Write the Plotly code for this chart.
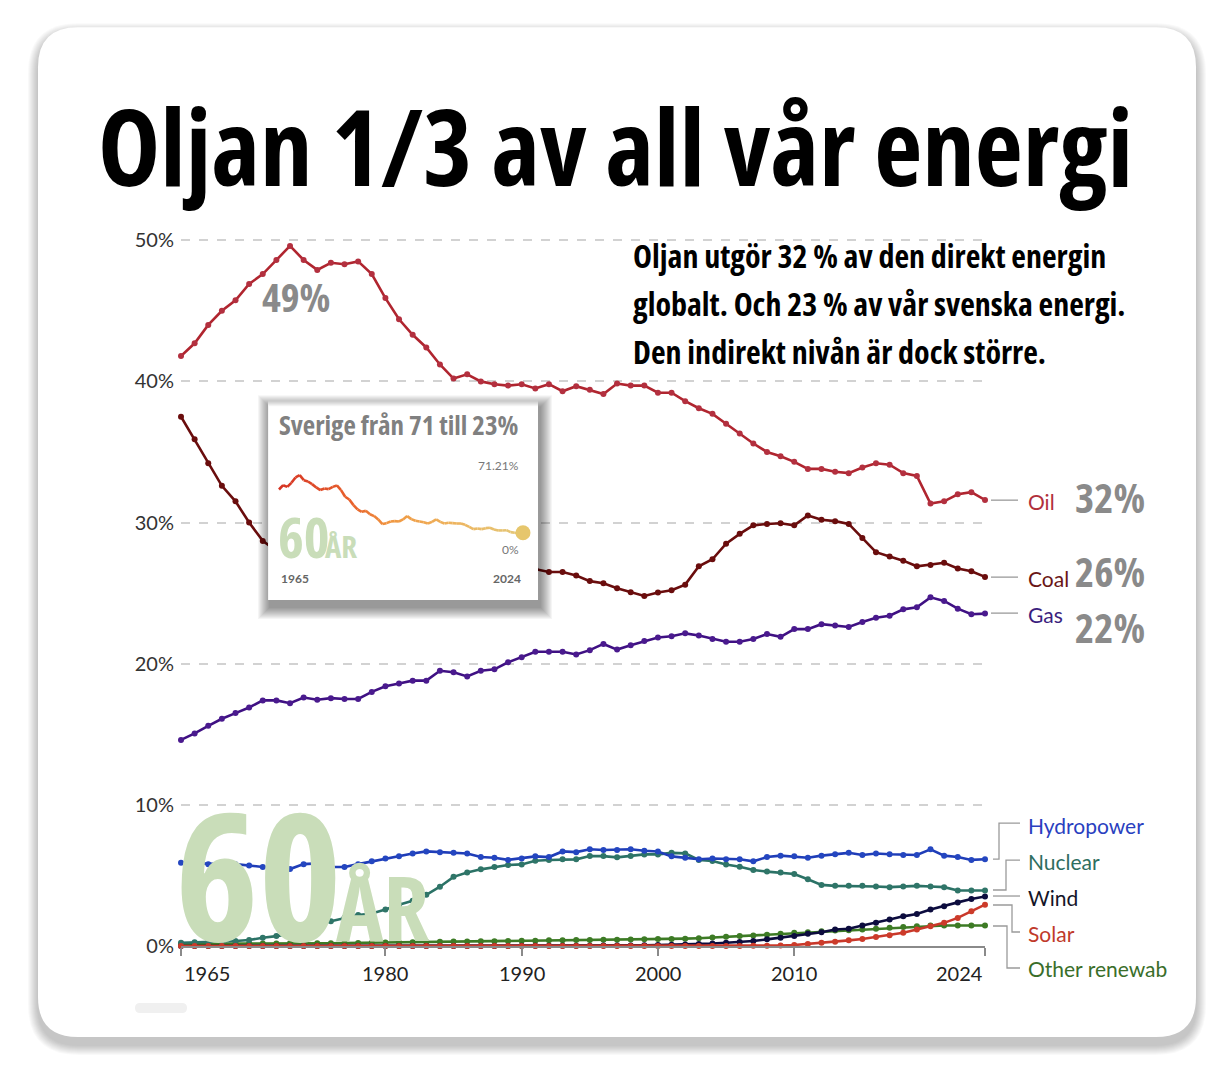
import plotly.graph_objects as go

# ---------------- data ----------------
years = list(range(1965, 2025))

oil = [41.8, 42.7, 44.0, 45.0, 45.75, 46.9, 47.6, 48.6, 49.6, 48.6,
       47.9, 48.4, 48.3, 48.5, 47.6, 45.9, 44.4, 43.3, 42.4, 41.2,
       40.2, 40.5, 40.0, 39.8, 39.7, 39.8, 39.5, 39.8, 39.3, 39.66,
       39.4, 39.1, 39.85, 39.7, 39.7, 39.2, 39.2, 38.6, 38.1, 37.7,
       37.0, 36.3, 35.6, 35.0, 34.7, 34.3, 33.8, 33.8, 33.6, 33.5,
       33.9, 34.2, 34.1, 33.5, 33.3, 31.35, 31.5, 32.0, 32.15, 31.6]

coal = [37.5, 35.9, 34.2, 32.6, 31.5, 30.0, 28.7, 28.0, 27.5, 27.3,
        27.4, 27.3, 27.2, 27.0, 26.9, 27.0, 27.4, 27.7, 27.8, 27.9,
        28.1, 27.9, 27.7, 27.4, 27.1, 26.9, 26.7, 26.5, 26.5, 26.25,
        25.85, 25.7, 25.35, 25.07, 24.8, 25.05, 25.2, 25.6, 26.9, 27.4,
        28.5, 29.2, 29.8, 29.9, 29.95, 29.8, 30.5, 30.2, 30.1, 29.9,
        28.9, 27.9, 27.6, 27.3, 26.9, 27.0, 27.15, 26.75, 26.55, 26.15]

gas = [14.6, 15.06, 15.6, 16.1, 16.5, 16.9, 17.4, 17.4, 17.2, 17.6,
       17.45, 17.56, 17.5, 17.5, 18.0, 18.4, 18.6, 18.8, 18.8, 19.5,
       19.4, 19.1, 19.5, 19.6, 20.1, 20.45, 20.85, 20.85, 20.85, 20.65,
       20.96, 21.4, 21.0, 21.3, 21.6, 21.85, 21.95, 22.15, 22.0, 21.75,
       21.55, 21.55, 21.75, 22.1, 21.9, 22.45, 22.45, 22.8, 22.7, 22.6,
       22.95, 23.25, 23.4, 23.85, 24.0, 24.7, 24.45, 23.9, 23.5, 23.55]

hydro = [5.9, 5.85, 5.8, 5.8, 5.8, 5.7, 5.6, 5.6, 5.45, 5.8,
         5.85, 5.6, 5.6, 5.8, 6.0, 6.2, 6.35, 6.55, 6.7, 6.65,
         6.6, 6.55, 6.3, 6.25, 6.1, 6.2, 6.35, 6.3, 6.7, 6.65,
         6.85, 6.8, 6.8, 6.85, 6.75, 6.7, 6.35, 6.25, 6.15, 6.2,
         6.15, 6.15, 6.0, 6.3, 6.4, 6.35, 6.25, 6.4, 6.5, 6.6,
         6.45, 6.55, 6.5, 6.45, 6.45, 6.85, 6.4, 6.3, 6.1, 6.15]

nuclear = [0.23, 0.26, 0.28, 0.3, 0.35, 0.42, 0.59, 0.7, 0.85, 1.1,
           1.52, 1.76, 2.0, 2.2, 2.3, 2.58, 2.93, 3.2, 3.63, 4.2,
           4.9, 5.2, 5.43, 5.6, 5.74, 5.78, 6.04, 6.09, 6.14, 6.14,
           6.37, 6.37, 6.28, 6.37, 6.49, 6.49, 6.6, 6.56, 6.09, 6.02,
           5.78, 5.62, 5.39, 5.27, 5.2, 5.1, 4.73, 4.33, 4.26, 4.26,
           4.26, 4.22, 4.17, 4.22, 4.26, 4.22, 4.17, 3.93, 3.93, 3.93]

wind = [0, 0, 0, 0, 0, 0, 0, 0, 0, 0,
        0, 0, 0, 0, 0, 0, 0, 0, 0, 0,
        0, 0, 0, 0, 0, 0.01, 0.01, 0.01, 0.02, 0.02,
        0.02, 0.03, 0.03, 0.04, 0.05, 0.07, 0.09, 0.11, 0.14, 0.18,
        0.23, 0.28, 0.35, 0.47, 0.59, 0.7, 0.87, 0.98, 1.17, 1.22,
        1.45, 1.64, 1.87, 2.1, 2.27, 2.58, 2.81, 3.09, 3.33, 3.51]

solar = [0, 0, 0, 0, 0, 0, 0, 0, 0, 0,
         0, 0, 0, 0, 0, 0, 0, 0, 0, 0,
         0, 0, 0, 0, 0, 0, 0, 0, 0, 0,
         0, 0, 0, 0, 0, 0, 0, 0, 0, 0,
         0, 0, 0.01, 0.02, 0.03, 0.07, 0.14, 0.23, 0.3, 0.4,
         0.5, 0.63, 0.77, 0.94, 1.17, 1.4, 1.64, 1.99, 2.46, 2.93]

other = [0.15, 0.15, 0.16, 0.16, 0.17, 0.17, 0.18, 0.18, 0.19, 0.19,
         0.2, 0.2, 0.21, 0.22, 0.23, 0.24, 0.25, 0.27, 0.28, 0.3,
         0.31, 0.32, 0.33, 0.34, 0.35, 0.37, 0.38, 0.4, 0.41, 0.42,
         0.43, 0.44, 0.45, 0.46, 0.47, 0.49, 0.5, 0.52, 0.55, 0.6,
         0.65, 0.7, 0.75, 0.8, 0.87, 0.93, 0.98, 1.05, 1.09, 1.12,
         1.17, 1.22, 1.29, 1.34, 1.4, 1.45, 1.45, 1.45, 1.45, 1.45]

# Sweden oil share (inset)
sweden = [59.2, 62.8, 61.4, 64.8, 69.3, 71.21, 67.0, 65.9, 63.7, 60.9,
          58.7, 60.0, 59.5, 61.4, 62.6, 58.7, 53.1, 50.8, 46.1, 42.5,
          40.5, 41.3, 38.5, 36.9, 34.1, 30.2, 31.0, 32.4, 32.7, 32.4,
          34.1, 36.9, 34.4, 33.0, 32.4, 31.8, 30.7, 32.1, 34.1, 32.1,
          30.7, 31.3, 31.0, 30.7, 30.7, 29.6, 27.9, 26.0, 26.5, 26.0,
          26.8, 27.1, 25.7, 24.9, 24.9, 25.1, 23.5, 22.9, 22.1, 23.0]
sweden_max_label = "71.21%"

x_tick_years = [1965, 1980, 1990, 2000, 2010, 2024]
y_ticks = [0, 10, 20, 30, 40, 50]
y_tick_text = ["0%", "10%", "20%", "30%", "40%", "50%"]

series_names = ["Other renewables", "Wind", "Nuclear", "Hydropower", "Gas", "Coal", "Oil", "Solar"]
series_values = [other, wind, nuclear, hydro, gas, coal, oil, solar]
series_colors = ["#3d7b25", "#0c0c3e", "#2b7266", "#1f3db8", "#3f1083", "#6a0d0d", "#b0252f", "#c9382a"]
marker_colors = ["#3d7b25", "#0c0c3e", "#2f7568", "#2446c0", "#4a1a8e", "#6a0d0d", "#b3303f", "#cc3b2a"]

title_text = "Oljan 1/3 av all vår energi"
sub_lines = ["Oljan utgör 32 % av den direkt energin",
             "globalt. Och 23 % av vår svenska energi.",
             "Den indirekt nivån är dock större."]

# ---------------- geometry helpers (page pixel -> paper) ----------------
OFF = 8                 # body margin of the html page
W, H = 1224 - 2 * OFF, 1074 - 2 * OFF
X0, X1 = 181, 985       # plot area left/right (page px)
Y0 = 946                # value 0 (page px)
PX_PER_PCT = (946 - 240) / 50.0
YMAX = 50.3
YTOP = Y0 - YMAX * PX_PER_PCT


def px(x):
    return (x - X0) / (X1 - X0)


def py(y):
    return (Y0 - y) / (Y0 - YTOP)


LATO = "Lato, Noto Sans, sans-serif"
COND = "Open Sans"


def cond(s):
    return '<span style="font-stretch:condensed">%s</span>' % s


fig = go.Figure()

for name, vals, lc, mc in zip(series_names, series_values, series_colors, marker_colors):
    fig.add_trace(go.Scatter(
        x=years, y=vals, name=name, mode="lines+markers",
        line=dict(color=lc, width=2.6),
        marker=dict(color=mc, size=6),
        cliponaxis=False, showlegend=False, hoverinfo="skip"))

# inset
IX0, IX1 = 1962.34, 2027.63
IY0, IY1 = -33.5, 134.05
fig.add_trace(go.Scatter(
    x=[IX0, IX1, IX1, IX0, IX0], y=[IY0, IY0, IY1, IY1, IY0],
    fill="toself", fillcolor="white", mode="lines", line=dict(width=0, color="white"),
    xaxis="x2", yaxis="y2", showlegend=False, hoverinfo="skip"))


def grad(t):
    stops = [(0.0, (214, 52, 36)), (0.3, (232, 98, 44)), (0.45, (240, 150, 64)),
             (0.7, (238, 178, 92)), (1.0, (228, 200, 120))]
    for (t0, c0), (t1, c1) in zip(stops[:-1], stops[1:]):
        if t <= t1:
            f = (t - t0) / (t1 - t0) if t1 > t0 else 0
            return "rgb(%d,%d,%d)" % tuple(round(a + (b - a) * f) for a, b in zip(c0, c1))
    return "rgb(%d,%d,%d)" % stops[-1][1]


n = len(years)
for i in range(n - 1):
    fig.add_trace(go.Scatter(
        x=[years[i], years[i + 1]], y=[sweden[i], sweden[i + 1]], mode="lines",
        line=dict(color=grad(i / (n - 2)), width=2.6),
        xaxis="x2", yaxis="y2", showlegend=False, hoverinfo="skip"))
fig.add_trace(go.Scatter(
    x=[years[-1]], y=[sweden[-1]], mode="markers",
    marker=dict(color="#e6c66c", size=15), cliponaxis=False,
    xaxis="x2", yaxis="y2", showlegend=False, hoverinfo="skip"))

# ---------------- shapes ----------------
shapes = []


def rrect(x0, y0, x1, y1, r):
    return ("M {a},{b} L {c},{b} Q {d},{b} {d},{e} L {d},{f} Q {d},{g} {c},{g} "
            "L {a},{g} Q {h},{g} {h},{f} L {h},{e} Q {h},{b} {a},{b} Z").format(
        a=px(x0 + r), b=py(y0), c=px(x1 - r), d=px(x1), e=py(y0 + r),
        f=py(y1 - r), g=py(y1), h=px(x0))


for k in range(10, 0, -1):
    shapes.append(dict(type="path", xref="paper", yref="paper", layer="below",
                       path=rrect(38 - k, 27 - k + 6, 1196 + k, 1037 + k + 8, 40 + k),
                       fillcolor="rgba(0,0,0,0.022)", line=dict(width=0)))
shapes.append(dict(type="path", xref="paper", yref="paper", layer="below",
                   path=rrect(38, 27, 1196, 1037, 40), fillcolor="white", line=dict(width=0)))
shapes.append(dict(type="path", xref="paper", yref="paper", layer="below",
                   path=rrect(135, 1003, 187, 1013, 5), fillcolor="#f0f0f0", line=dict(width=0)))


def ring(x0, y0, x1, y1, k, dx, dy):
    outer = "M {a},{b} L {c},{b} L {c},{d} L {a},{d} Z".format(
        a=px(x0 - k + dx), b=py(y0 - k + dy), c=px(x1 + k + dx), d=py(y1 + k + dy))
    inner = " M {a},{b} L {a},{d} L {c},{d} L {c},{b} Z".format(
        a=px(x0), b=py(y0), c=px(x1), d=py(y1))
    return outer + inner


for k in range(1, 13):
    shapes.append(dict(type="path", xref="paper", yref="paper", layer="above",
                       path=ring(268, 400, 538, 600, k, 2, 7),
                       fillcolor="rgba(0,0,0,0.04)", line=dict(width=0)))

shapes += [
    dict(type="line", xref="x2", yref="y2", x0=1965, x1=2024, y0=max(sweden), y1=max(sweden),
         line=dict(color="#dcdcdc", width=1.2), layer="between"),
    dict(type="line", xref="x2", yref="y2", x0=2024, x1=2024, y0=0, y1=max(sweden),
         line=dict(color="#dcdcdc", width=1.2), layer="between"),
    dict(type="line", xref="x2", yref="y2", x0=1965, x1=2024, y0=0, y1=0,
         line=dict(color="#8a8a8a", width=1.5), layer="between"),
    dict(type="line", xref="x2", yref="y2", x0=1965, x1=1965, y0=0, y1=-6.5,
         line=dict(color="#8a8a8a", width=1.5), layer="between"),
    dict(type="line", xref="x2", yref="y2", x0=2024, x1=2024, y0=0, y1=-6.5,
         line=dict(color="#8a8a8a", width=1.5), layer="between"),
]

conn = [
    [(991, 500), (1018, 500)],
    [(991, 577), (1018, 577)],
    [(991, 613), (1018, 613)],
    [(993, 859), (999, 859), (999, 823), (1020, 823)],
    [(993, 890), (1006, 890), (1006, 860), (1020, 860)],
    [(993, 896), (1020, 896)],
    [(993, 905), (1012, 905), (1012, 932), (1020, 932)],
    [(993, 926), (1007, 926), (1007, 968), (1020, 968)],
]
for pts in conn:
    path = "M " + " L ".join("%f,%f" % (px(a), py(b)) for a, b in pts)
    shapes.append(dict(type="path", xref="paper", yref="paper", path=path,
                       line=dict(color="#9a9a9a", width=1.3)))

# ---------------- annotations ----------------
ann = []


def text(x, y, s, size, color, family, xa="left", ya="middle", bold=False, condensed=False):
    if condensed:
        s = cond(s)
    ann.append(dict(x=px(x), y=py(y), xref="paper", yref="paper",
                    text=("<b>%s</b>" % s) if bold else s, showarrow=False,
                    xanchor=xa, yanchor=ya,
                    font=dict(size=size, color=color, family=family)))


text(615, 145, title_text, 105, "#000000", COND, xa="center", bold=True, condensed=True)
for i, s in enumerate(sub_lines):
    text(631, 255 + 48 * i, s, 32, "#000000", COND, bold=True, condensed=True)

text(296, 296, "49%", 40, "#8a8a8a", COND, xa="center", bold=True, condensed=True)
text(1110, 497, "32%", 41, "#8a8a8a", COND, xa="center", bold=True, condensed=True)
text(1110, 571, "26%", 41, "#8a8a8a", COND, xa="center", bold=True, condensed=True)
text(1110, 627, "22%", 41, "#8a8a8a", COND, xa="center", bold=True, condensed=True)

labels = [("Oil", 501, "#b1303c"), ("Coal", 578, "#6a1616"), ("Gas", 614, "#3b1e7e"),
          ("Hydropower", 825, "#2a3fbf"), ("Nuclear", 861, "#2e6e60"),
          ("Wind", 897, "#151528"), ("Solar", 933, "#c0392b"),
          ("Other renewab", 969, "#3a6e2a")]
for s, y, c in labels:
    text(1026, y, s, 21, c, LATO)

for yr in x_tick_years:
    xp = X0 + (yr - 1965) * (X1 - X0) / (2024 - 1965)
    xa = "left" if yr == 1965 else ("right" if yr == 2024 else "center")
    text(xp + (1 if yr == 1965 else 0), 973, str(yr), 20, "#222222", LATO, xa=xa)

# 60ÅR watermark (main)
text(173, 872, "60", 178, "#c9ddb9", COND, bold=True, condensed=True)
text(334, 906, "ÅR", 90, "#c9ddb9", COND, bold=True, condensed=True)

# inset texts
text(277, 424, "Sverige från 71 till 23%", 27, "#808080", COND, bold=True, condensed=True)
text(521, 465, sweden_max_label, 12, "#777777", LATO, xa="right")
text(521, 549, "0%", 12, "#777777", LATO, xa="right")
text(279, 578, "1965", 12, "#666666", LATO, bold=True)
text(523, 578, "2024", 12, "#666666", LATO, xa="right", bold=True)
text(276, 536, "60", 55, "#c9ddb9", COND, bold=True, condensed=True)
text(323, 546, "ÅR", 31, "#c9ddb9", COND, bold=True, condensed=True)

fig.update_layout(
    width=W, height=H, autosize=False,
    margin=dict(l=X0 - OFF, r=W - (X1 - OFF), t=YTOP - OFF, b=H - (Y0 - OFF), pad=0),
    paper_bgcolor="white", plot_bgcolor="white",
    showlegend=False,
    xaxis=dict(range=[1965, 2024], showgrid=False, zeroline=False,
               showline=True, linecolor="#8a8a8a", linewidth=1.5,
               ticks="outside", tickvals=x_tick_years, ticklen=8, tickwidth=1.5,
               tickcolor="#8a8a8a", showticklabels=False, fixedrange=True),
    yaxis=dict(range=[0, YMAX], tickmode="array", tickvals=y_ticks, ticktext=y_tick_text,
               showgrid=True, gridcolor="#d2d2d2", gridwidth=1.5, griddash="dash",
               zeroline=False, showline=False, ticks="",
               tickfont=dict(family=LATO, size=20, color="#333333"),
               ticklabelstandoff=6, fixedrange=True),
    xaxis2=dict(domain=[px(268), px(538)], range=[IX0, IX1], anchor="y2", visible=False,
                fixedrange=True),
    yaxis2=dict(domain=[py(600), py(400)], range=[IY0, IY1], anchor="x2", visible=False,
                fixedrange=True),
    shapes=shapes, annotations=ann,
)

fig.write_html("out.html")
